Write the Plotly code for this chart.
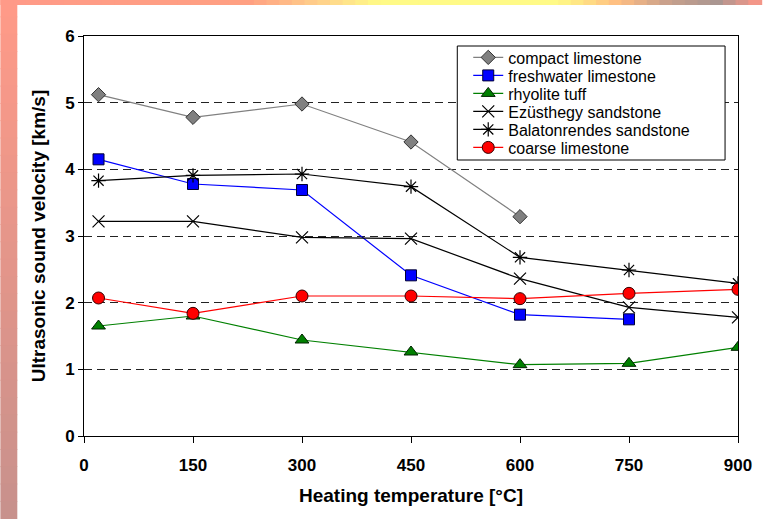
import plotly.graph_objects as go

temps = [20, 150, 300, 450, 600, 750, 900]
compact_limestone = [5.12, 4.78, 4.98, 4.41, 3.29]
freshwater_limestone = [4.15, 3.78, 3.69, 2.41, 1.82, 1.75]
rhyolite_tuff = [1.65, 1.80, 1.44, 1.26, 1.07, 1.09, 1.33]
ezusthegy_sandstone = [3.22, 3.22, 2.98, 2.96, 2.36, 1.93, 1.78]
balatonrendes_sandstone = [3.83, 3.91, 3.93, 3.74, 2.68, 2.49, 2.29]
coarse_limestone = [2.07, 1.84, 2.10, 2.10, 2.06, 2.14, 2.20]

x_ticks = [0, 150, 300, 450, 600, 750, 900]
y_ticks = [0, 1, 2, 3, 4, 5, 6]

series = [
    ("compact limestone", compact_limestone, "#808080", dict(symbol="diamond", size=11, color="#808080", line=dict(color="#333333", width=1))),
    ("freshwater limestone", freshwater_limestone, "#0000FF", dict(symbol="square", size=11, color="#0000FF", line=dict(color="#000033", width=1))),
    ("rhyolite tuff", rhyolite_tuff, "#008000", dict(symbol="triangle-up", size=12, color="#008000", line=dict(color="#002200", width=1))),
    ("Ezüsthegy sandstone", ezusthegy_sandstone, "#000000", dict(symbol="x-thin-open", size=12, color="#000000", line=dict(color="#000000", width=1.2))),
    ("Balatonrendes sandstone", balatonrendes_sandstone, "#000000", dict(symbol="asterisk-open", size=12, color="#000000", line=dict(color="#000000", width=1.2))),
    ("coarse limestone", coarse_limestone, "#FF0000", dict(symbol="circle", size=12, color="#FF0000", line=dict(color="#330000", width=1))),
]

W, H = 764, 519
PL, PR, PT, PB = 84, 741, 36, 436
PW, PH = PR - PL, PB - PT

def px(x):
    return (x - PL) / PW

def py(y):
    return (PB - y) / PH

fig = go.Figure()
legend_names = ["legend", "legend2", "legend3", "legend4", "legend5", "legend6"]
for (name, vals, col, mk), lg in zip(series, legend_names):
    fig.add_trace(go.Scatter(
        x=temps[:len(vals)], y=vals, name=name, mode="lines+markers",
        line=dict(color=col, width=1.2), marker=mk, legend=lg,
    ))

shapes = []
def lerp(c1, c2, t):
    return tuple(int(round(a + (b - a) * t)) for a, b in zip(c1, c2))

# left decorative strip
n = 30
for i in range(n):
    t = i / (n - 1)
    c = lerp((255, 154, 136), (200, 145, 140), t)
    shapes.append(dict(type="rect", xref="paper", yref="paper",
                       x0=px(0), x1=px(17),
                       y0=py((i + 1) * H / n), y1=py(i * H / n) + 0.002,
                       line=dict(width=0), fillcolor="rgb%s" % (c,), layer="below"))
# top decorative strip
stops = [(0, (255, 154, 136)), (250, (255, 160, 130)), (330, (255, 215, 140)), (380, (255, 250, 135)),
         (560, (255, 250, 135)), (620, (255, 190, 130)), (670, (200, 160, 140)), (720, (170, 150, 145)),
         (764, (255, 150, 135))]
m = 60
for i in range(m):
    xa = i * W / m
    xb = (i + 1) * W / m
    xm = (xa + xb) / 2
    c = stops[-1][1]
    for j in range(len(stops) - 1):
        if stops[j][0] <= xm <= stops[j + 1][0]:
            t = (xm - stops[j][0]) / (stops[j + 1][0] - stops[j][0])
            c = lerp(stops[j][1], stops[j + 1][1], t)
            break
    shapes.append(dict(type="rect", xref="paper", yref="paper",
                       x0=px(xa), x1=px(xb) + 0.002,
                       y0=py(5), y1=py(0),
                       line=dict(width=0), fillcolor="rgb%s" % (c,), layer="below"))

# legend frame
shapes.append(dict(type="rect", xref="paper", yref="paper",
                   x0=px(459), x1=px(728), y0=py(160), y1=py(46),
                   line=dict(color="black", width=1), fillcolor="white", layer="above"))

row_centers = [57.5, 75.5, 93.5, 111.5, 129.5, 147.5]
legends = {}
for lg, yc in zip(legend_names, row_centers):
    legends[lg] = dict(x=px(470), y=py(yc), xanchor="left", yanchor="middle",
                       bgcolor="rgba(0,0,0,0)", borderwidth=0,
                       font=dict(size=16, family="Liberation Sans, Arial, sans-serif", color="black"))

fig.update_layout(
    width=W, height=H,
    margin=dict(l=PL, r=W - PR, t=PT, b=H - PB),
    paper_bgcolor="white", plot_bgcolor="white",
    font=dict(family="Liberation Sans, Arial, sans-serif", size=14, color="black"),
    shapes=shapes,
    showlegend=True,
    xaxis=dict(range=[0, 900], tickvals=x_ticks, ticktext=[str(v) for v in x_ticks],
               showgrid=False, zeroline=False, showline=True, linecolor="black", linewidth=1,
               mirror=True, ticks="outside", ticklen=6, tickcolor="black", ticklabelstandoff=8,
               tickfont=dict(size=17, family="Liberation Sans, Arial", weight="bold"),
               title=dict(text="<b>Heating temperature [°C]</b>", font=dict(size=19), standoff=14)),
    yaxis=dict(range=[0, 6], tickvals=y_ticks, ticktext=[str(v) for v in y_ticks],
               showgrid=True, gridcolor="#222222", gridwidth=1, griddash="8px,5px",
               zeroline=False, showline=True, linecolor="black", linewidth=1,
               mirror=True, ticks="outside", ticklen=5, tickcolor="black",
               tickfont=dict(size=17, family="Liberation Sans, Arial", weight="bold"),
               title=dict(text="<b>Ultrasonic sound velocity [km/s]</b>", font=dict(size=19), standoff=14)),
    **legends,
)

fig.write_html("out.html", config={"displayModeBar": False},
               post_script="document.body.style.margin='0';document.body.style.padding='0';")
